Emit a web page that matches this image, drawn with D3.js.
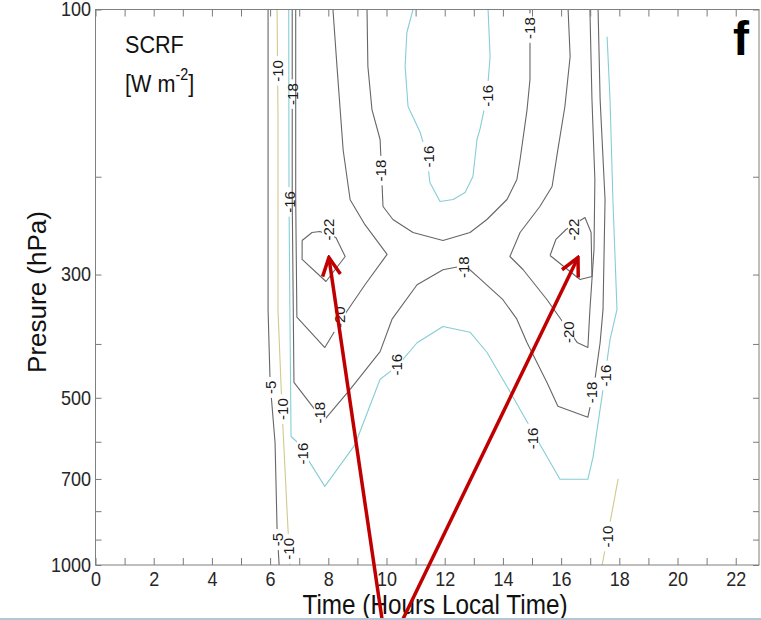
<!DOCTYPE html>
<html lang="en">
<head>
  <meta charset="UTF-8">
  <script src="https://d3js.org/d3.v7.min.js"></script>
  <title>SCRF contours</title>
  <style>
    body { margin: 0; background: #fff; }
    svg { display: block; font-family: "Liberation Sans", Arial, sans-serif; }
    .contour { fill: none; stroke-width: 1.1px; stroke-linejoin: round; }
    .clabel { font-size: 15px; fill: #1a1a1a; }
    .tick line { stroke: #7a7a7a; }
    .tick text { fill: #262626; font-size: 20px; }
  </style>
</head>
<body>
<div id="chart"></div>
<script>
  // contour lines: [hour (local time), pressure (hPa)]
  const m5Left = [[5.93,100],[5.93,347],[6.0,469],[6.17,602],[6.24,863],[6.31,1000]];
  const m10Left = [[6.24,100],[6.27,155],[6.27,347],[6.41,524],[6.58,794],[6.68,1000]];
  const m10Right = [[17.96,700],[17.41,1000]];
  const m16Main = [[6.64,100],[6.65,220],[6.68,347],[6.72,587],[6.92,600],[7.13,625],[7.88,722],
    [8.92,607],[9.78,463],[10.36,439],[11.05,398],[11.94,372],[12.87,381],[13.45,414],[14.14,477],
    [14.59,525],[15.17,594],[15.96,701],[16.92,701],[17.10,638],[17.51,456],[17.68,393],[17.92,347],
    [17.78,220],[17.68,145],[17.58,112]];
  const m16Upper = [[10.91,100],[10.70,110],[10.64,126.6],[10.74,149.5],[11.16,166.5],[11.39,183.9],
    [11.49,204.9],[11.84,221.6],[12.29,219.8],[12.70,213.6],[12.97,199.8],[13.11,171.4],[13.21,164.4],
    [13.45,143.4],[13.56,121.5],[13.49,100]];
  const m18Main = [[6.76,100],[6.76,220],[6.82,469],[7.54,525],[7.88,547],[8.75,483],[9.78,413],
    [10.19,361],[11.05,313],[11.94,294],[12.70,289],[13.11,302],[14.0,333],[14.48,361],[14.83,398],
    [15.51,469],[15.89,518],[16.92,542],[17.10,489],[17.34,398],[17.44,347],[17.51,220],[17.34,145],[17.27,100]];
  const m18Upper = [[9.33,100],[9.36,126.6],[9.50,151.4],[9.78,171.4],[9.88,226.3],[10.22,238.8],
    [10.91,252],[11.94,260.5],[12.87,252],[13.45,238.8],[14.14,219.8],[14.48,202.3],[14.59,186.2],
    [14.83,151.4],[14.93,133.7],[14.93,100]];
  const m20Left = [[6.88,100],[6.88,220],[6.92,358],[7.88,406],[8.58,353],[9.26,313],[10.02,276],
    [9.26,244],[8.75,220],[8.51,179],[8.30,127],[8.16,100]];
  const m20Right = [[16.24,100],[16.31,121.5],[16.13,149.5],[15.89,178.6],[15.69,208.3],[15.27,226.3],
    [14.59,252],[14.24,278.4],[14.69,293.8],[15.51,332.7],[16.07,365.9],[16.55,397.5],[16.92,405.8],
    [16.99,346.7],[17.13,270.4],[17.16,202.3],[17.06,145.2],[16.99,100]];
  const m22Left = [[7.10,260.5],[7.44,252],[7.71,250.9],[8.26,257.3],[8.58,278.4],[7.92,308.8],[7.10,281.8],[7.10,260.5]];
  const m22Right = [[15.62,277.2],[15.82,259.4],[16.17,248.9],[16.82,236.8],[17.03,252],[17.06,302.4],[16.65,306.2],[15.62,277.2]];

  // inline labels: [hour, hPa, contour id]
  const contourLabels = [
    [6.02,479,"m5Left"],[6.26,900,"m5Left"],
    [6.27,129,"m10Left"],[6.41,524,"m10Left"],[6.64,935,"m10Left"],
    [17.61,889,"m10Right"],
    [6.66,222,"m16Main"],[7.13,630,"m16Main"],[10.36,436,"m16Main"],[15.03,592,"m16Main"],[17.51,456,"m16Main"],
    [11.43,184,"m16Upper"],[13.47,143,"m16Upper"],
    [6.76,142,"m18Main"],[7.71,532,"m18Main"],[12.63,291,"m18Main"],[17.05,489,"m18Main"],
    [9.80,195,"m18Upper"],[14.93,108,"m18Upper"],
    [8.40,358,"m20Left"],[16.24,381,"m20Right"],
    [7.99,249,"m22Left"],[16.44,249,"m22Right"]
  ];

  const xTicks = d3.range(0, 23);
  const xLabelled = [0, 2, 4, 6, 8, 10, 12, 14, 16, 18, 20, 22];
  const yTicks = [100, 200, 300, 400, 500, 600, 700, 800, 900, 1000];
  const yLabelled = [100, 300, 500, 700, 1000];

  // red annotation arrows: tail -> tip, [hour, hPa]
  const arrowTails = [[9.85, 1256], [10.55, 1256]];
  const arrowTips = [[8.02, 279.5], [16.58, 279.5]];

  const contours = [
    { id: "m5Left", level: -5, pts: m5Left },
    { id: "m10Left", level: -10, pts: m10Left },
    { id: "m10Right", level: -10, pts: m10Right },
    { id: "m16Main", level: -16, pts: m16Main },
    { id: "m16Upper", level: -16, pts: m16Upper },
    { id: "m18Main", level: -18, pts: m18Main },
    { id: "m18Upper", level: -18, pts: m18Upper },
    { id: "m20Left", level: -20, pts: m20Left },
    { id: "m20Right", level: -20, pts: m20Right },
    { id: "m22Left", level: -22, pts: m22Left },
    { id: "m22Right", level: -22, pts: m22Right }
  ];

  const W = 761, H = 620;
  const plotL = 95.5, plotR = 759, plotT = 9.5, plotB = 565;

  const x = d3.scaleLinear().domain([0, 22.8]).range([plotL, plotR]);
  const y = d3.scaleLog().domain([100, 1000]).range([plotT, plotB]);

  function levelColor(v) {
    if (v === -10) return "#d2c98e";
    if (v === -16) return "#86cdd6";
    return "#666";
  }

  const svg = d3.select("#chart").append("svg")
          .attr("width", W)
          .attr("height", H);

  svg.append("rect").attr("width", W).attr("height", H).attr("fill", "#fff");

  const defs = svg.append("defs");
  defs.append("clipPath").attr("id", "plotClip")
          .append("rect")
          .attr("x", plotL).attr("y", plotT)
          .attr("width", plotR - plotL).attr("height", plotB - plotT);

  const labelH = 12;
  const labelW = t => t.length * 8.5 + 4;

  // masks that cut a gap in each line where its labels sit
  contours.forEach((c, i) => {
    const mask = defs.append("mask").attr("id", "gap" + i)
            .attr("maskUnits", "userSpaceOnUse")
            .attr("x", 0).attr("y", 0).attr("width", W).attr("height", H);
    mask.append("rect").attr("width", W).attr("height", H).attr("fill", "white");
    contourLabels.filter(l => l[2] === c.id).forEach(l => {
      const w = labelW(String(c.level));
      mask.append("rect")
              .attr("x", -w / 2).attr("y", -labelH / 2)
              .attr("width", w).attr("height", labelH)
              .attr("fill", "black")
              .attr("transform", `translate(${x(l[0])},${y(l[1])}) rotate(-90)`);
    });
  });

  const line = d3.line().x(d => x(d[0])).y(d => y(d[1]));

  const plot = svg.append("g").attr("clip-path", "url(#plotClip)");
  plot.selectAll("path.contour")
          .data(contours)
          .enter()
          .append("path")
          .attr("class", "contour")
          .attr("d", d => line(d.pts))
          .attr("stroke", d => levelColor(d.level))
          .attr("mask", (d, i) => `url(#gap${i})`);

  const levelOf = id => contours.find(c => c.id === id).level;
  plot.selectAll("text.clabel")
          .data(contourLabels)
          .enter()
          .append("text")
          .attr("class", "clabel")
          .attr("text-anchor", "middle")
          .attr("dominant-baseline", "central")
          .attr("transform", d => `translate(${x(d[0])},${y(d[1])}) rotate(-90)`)
          .text(d => levelOf(d[2]));

  // axes: ticks point inward, box all round
  const gx = svg.append("g").attr("transform", `translate(0,${plotB})`)
          .call(d3.axisBottom(x).tickValues(xTicks).tickSize(-7).tickPadding(7)
                  .tickFormat(d => xLabelled.includes(d) ? d : ""));
  gx.select(".domain").remove();
  gx.selectAll(".tick text").attr("transform", "scale(0.9,1)");

  const gxt = svg.append("g").attr("transform", `translate(0,${plotT})`)
          .call(d3.axisTop(x).tickValues(xTicks).tickSize(-7).tickFormat(""));
  gxt.select(".domain").remove();

  const gy = svg.append("g").attr("transform", `translate(${plotL},0)`)
          .call(d3.axisLeft(y).tickValues(yTicks).tickSize(-6).tickPadding(5)
                  .tickFormat(d => yLabelled.includes(d) ? d : ""));
  gy.select(".domain").remove();
  gy.selectAll(".tick text").attr("transform", "scale(0.9,1)");

  const gyr = svg.append("g").attr("transform", `translate(${plotR},0)`)
          .call(d3.axisRight(y).tickValues(yTicks).tickSize(-6).tickFormat(""));
  gyr.select(".domain").remove();

  svg.append("rect")
          .attr("x", plotL).attr("y", plotT)
          .attr("width", plotR - plotL).attr("height", plotB - plotT)
          .attr("fill", "none")
          .attr("stroke", "#7f7f7f")
          .attr("stroke-width", 1);

  // axis titles
  svg.append("text")
          .attr("transform", "translate(435,614) scale(0.9,1)")
          .attr("text-anchor", "middle")
          .style("font-size", "27px")
          .style("fill", "#111")
          .text("Time (Hours Local Time)");

  svg.append("text")
          .attr("transform", "translate(46,292) rotate(-90)")
          .attr("text-anchor", "middle")
          .style("font-size", "26px")
          .style("fill", "#111")
          .text("Presure (hPa)");

  // panel title and letter
  svg.append("text")
          .attr("transform", "translate(125,53) scale(0.9,1)")
          .style("font-size", "24px")
          .style("fill", "#111")
          .text("SCRF");

  const unit = svg.append("text")
          .attr("transform", "translate(125,92) scale(0.9,1)")
          .style("font-size", "24px")
          .style("fill", "#111");
  unit.append("tspan").text("[W m");
  unit.append("tspan").attr("dy", -12).style("font-size", "16px").text("-2");
  unit.append("tspan").attr("dy", 12).text("]");

  svg.append("text")
          .attr("x", 741).attr("y", 55)
          .attr("text-anchor", "middle")
          .style("font-size", "48px")
          .style("font-weight", "bold")
          .style("fill", "#000")
          .text("f");

  // red arrows pointing at the two minima
  defs.append("marker")
          .attr("id", "head")
          .attr("markerUnits", "userSpaceOnUse")
          .attr("viewBox", "0 0 22 22")
          .attr("refX", 20).attr("refY", 11)
          .attr("markerWidth", 22).attr("markerHeight", 22)
          .attr("orient", "auto")
          .append("path")
          .attr("d", "M2,2 L20,11 L2,20")
          .attr("fill", "none")
          .attr("stroke", "#c00000")
          .attr("stroke-width", 3.5);

  svg.selectAll("line.arrow")
          .data(arrowTips)
          .enter()
          .append("line")
          .attr("class", "arrow")
          .attr("x1", (d, i) => x(arrowTails[i][0]))
          .attr("y1", (d, i) => y(arrowTails[i][1]))
          .attr("x2", d => x(d[0]))
          .attr("y2", d => y(d[1]))
          .attr("stroke", "#c00000")
          .attr("stroke-width", 3.5)
          .attr("marker-end", "url(#head)");

  // thin slide edge at the bottom
  svg.append("line")
          .attr("x1", 0).attr("x2", W)
          .attr("y1", 619).attr("y2", 619)
          .attr("stroke", "#b3c6d4")
          .attr("stroke-width", 2);
</script>
</body>
</html>
